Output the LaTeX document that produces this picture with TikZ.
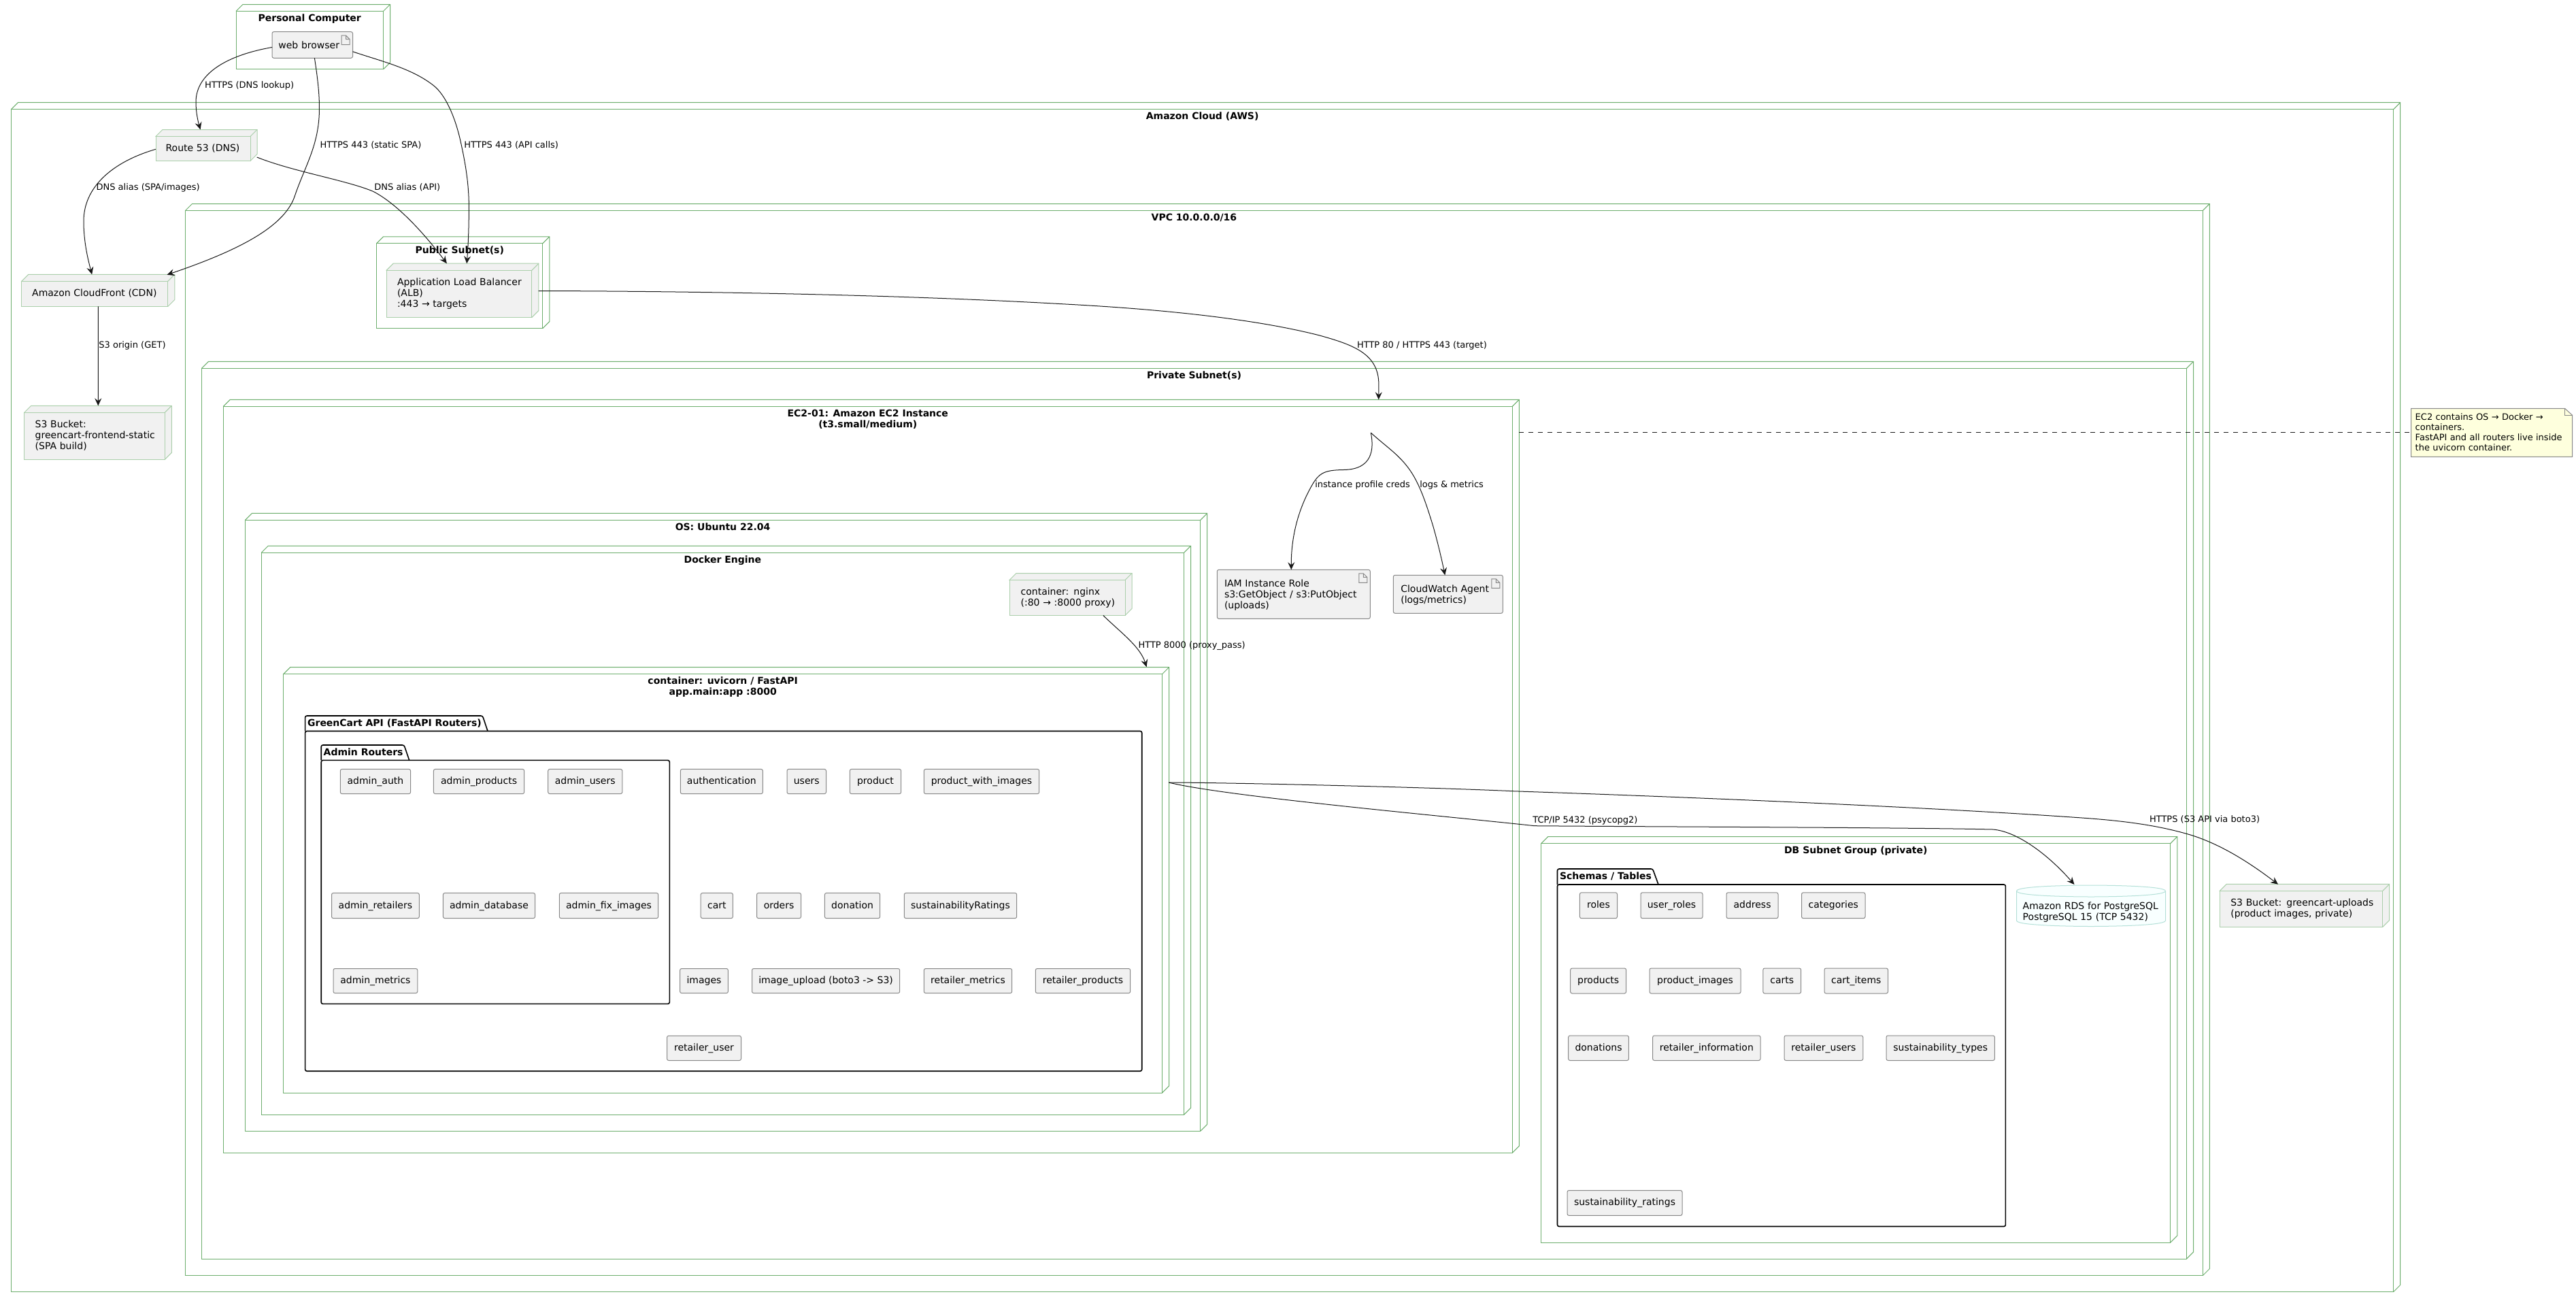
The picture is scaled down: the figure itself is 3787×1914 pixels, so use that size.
\documentclass[tikz,border=0pt]{standalone}
\usepackage{fontspec}
\setmainfont{DejaVu Sans}
\usetikzlibrary{arrows.meta}
\definecolor{contgreen}{HTML}{6DAE6D}
\definecolor{leafgreen}{HTML}{ABCFAB}
\definecolor{boxfill}{HTML}{F1F1F1}
\definecolor{boxline}{HTML}{888888}
\definecolor{notefill}{HTML}{FEFFDD}
\definecolor{dbline}{HTML}{B4E0D8}
\definecolor{dbfill}{HTML}{F8FFFF}
\definecolor{edgeink}{HTML}{181818}
\newcommand{\st}{\rule[-3.5pt]{0pt}{15pt}}
\newcommand{\lnn}[1]{\mbox{\st #1}}
\tikzset{
  x=1pt,y=-1pt,
  base/.style={inner sep=0pt,outer sep=0pt,font=\fontsize{14}{16}\selectfont},
  small/.style={inner sep=0pt,outer sep=0pt,font=\fontsize{13}{15}\selectfont},
  shellc/.style={draw=contgreen,line width=1pt,line join=miter},
  shelll/.style={draw=leafgreen,fill=boxfill,line width=1pt,line join=miter},
  contfront/.style={base,draw=contgreen,line width=1pt},
  leaffront/.style={base,draw=leafgreen,fill=boxfill,line width=1pt,align=left},
  titletext/.style={base,font=\fontsize{14}{16}\bfseries\selectfont,align=center},
  comprect/.style={base,draw=boxline,fill=boxfill,line width=1pt,rounded corners=2.5pt},
  artrect/.style={base,draw=boxline,fill=boxfill,line width=1pt,rounded corners=2.5pt,align=left},
  arttab/.style={draw=boxline,line width=1pt},
  pkgline/.style={draw=black,line width=1.6pt,rounded corners=2.5pt},
  pkgbody/.style={base,draw=black,line width=1.6pt,rounded corners=2.5pt},
  elabel/.style={small,anchor=west,yshift=0.5pt},
  edge/.style={draw=edgeink,line width=1pt,-{Stealth[length=11pt,width=10pt,inset=4pt]}},
  noteedge/.style={draw=edgeink,line width=1pt,dash pattern=on 7pt off 7pt},
}
% name x0 y0 x1 y1 title
\newcommand{\contbox}[6]{%
  \path[shellc] (#2,#3) -- (#2+10,#3-10) -- (#4+10,#3-10) -- (#4+10,#5-10) -- (#4,#5) (#4,#3) -- (#4+10,#3-10);
  \node[contfront,minimum width={(#4-#2)*1pt},minimum height={(#5-#3)*1pt}] (#1) at ({(#2+#4)/2},{(#3+#5)/2}) {};
  \node[titletext,anchor=north] (#1-title) at ({(#2+#4)/2},#3+3.5) {#6};
}
% name x0 y0 x1 y1 pad text
\newcommand{\leafbox}[7]{%
  \path[shelll] (#2,#3) -- (#2+10,#3-10) -- (#4+10,#3-10) -- (#4+10,#5-10) -- (#4,#5) -- cycle;
  \path[shelll] (#4,#3) -- (#4+10,#3-10);
  \pgfmathsetmacro{\tw}{#4-#2-2*#6}
  \node[leaffront,inner xsep=#6pt,text width=\tw pt,minimum width={(#4-#2)*1pt},minimum height={(#5-#3)*1pt}] (#1) at ({(#2+#4)/2},{(#3+#5)/2}) {#7};
}
% name x0 y0 x1 y1 text
\newcommand{\compbox}[6]{%
  \node[comprect,minimum width={(#4-#2)*1pt},minimum height={(#5-#3)*1pt}] (#1) at ({(#2+#4)/2},{(#3+#5)/2}) {\st #6};
}
% name x0 y0 x1 y1 pad text
\newcommand{\artbox}[7]{%
  \pgfmathsetmacro{\tw}{#4-#2-2*#6}
  \node[artrect,inner xsep=#6pt,text width=\tw pt,minimum width={(#4-#2)*1pt},minimum height={(#5-#3)*1pt}] (#1) at ({(#2+#4)/2},{(#3+#5)/2}) {\rule{0pt}{14.5pt}#7};
  \path[arttab] (#4-16.5,#3+5.5) -- (#4-10,#3+5.5) -- (#4-4.5,#3+11) -- (#4-4.5,#3+19) -- (#4-16.5,#3+19) -- cycle
    (#4-10,#3+5.5) -- (#4-10,#3+11) -- (#4-4.5,#3+11);
}
% name x0 tabtop bodytop x1 y1 tabTR tabBR title
\newcommand{\pkgbox}[9]{%
  \path[pkgline] (#2,#4) -- (#2,#3) -- (#7,#3) -- (#8,#4);
  \node[pkgbody,minimum width={(#5-#2)*1pt},minimum height={(#6-#4)*1pt}] (#1) at ({(#2+#5)/2},{(#4+#6)/2}) {};
  \node[base,anchor=west,font=\fontsize{14}{16}\bfseries\selectfont] (#1-title) at (#2+3.5,{(#3+#4)/2}) {\st #9};
}
\begin{document}
\begin{tikzpicture}
\useasboundingbox (0,0) rectangle (3787,1914);
\fill[white] (0,0) rectangle (3787,1914);
% containers
\contbox{pc}{347}{16.5}{563.5}{101.8}{\st Personal Computer}
\contbox{aws}{16.5}{160.7}{3518.7}{1898.5}{\st Amazon Cloud (AWS)}
\contbox{vpc}{272.5}{309.5}{3238.3}{1874.6}{\st VPC 10.0.0.0/16}
\contbox{pub}{553.6}{357.8}{797.8}{482.6}{\st Public Subnet(s)}
\contbox{priv}{296.5}{541.3}{3214.5}{1850}{\st Private Subnet(s)}
\contbox{ec2}{328.3}{597.3}{2223.3}{1694.3}{\st EC2-01: Amazon EC2 Instance\\\st (t3.small/medium)}
\contbox{os}{360.4}{764.4}{1764.7}{1662.3}{\st OS: Ubuntu 22.04}
\contbox{docker}{384.2}{812.3}{1740.6}{1638.3}{\st Docker Engine}
\contbox{uv}{416.7}{990.6}{1708.6}{1606}{\st container: uvicorn / FastAPI\\\st app.main:app :8000}
\contbox{dbnet}{2265.8}{1239.5}{3190.8}{1826}{\st DB Subnet Group (private)}
% artifacts
\artbox{web}{400}{46.7}{518.5}{85.3}{9.4}{\lnn{web browser}}
\artbox{iam}{1789.3}{837.3}{2014.3}{909.3}{10.7}{\lnn{IAM Instance Role}\\\lnn{s3:GetObject / s3:PutObject}\\\lnn{(uploads)}}
\artbox{cw}{2048.3}{845.3}{2209.3}{901.3}{11}{\lnn{CloudWatch Agent}\\\lnn{(logs/metrics)}}
% 3D leaf nodes
\leafbox{r53}{229}{200.5}{368}{236.5}{14.6}{\lnn{Route 53 (DNS)}}
\leafbox{cf}{31.9}{413.3}{246.8}{450.4}{15.3}{\lnn{Amazon CloudFront (CDN)}}
\leafbox{s3f}{35.7}{606.3}{242.3}{675.3}{16}{\lnn{S3 Bucket:}\\\lnn{greencart-frontend-static}\\\lnn{(SPA build)}}
\leafbox{alb}{568.2}{397.2}{781.9}{466.5}{15.8}{\lnn{Application Load Balancer}\\\lnn{(ALB)}\\\lnn{:443 → targets}}
\leafbox{nginx}{1484}{852.5}{1654}{904.5}{16.6}{\lnn{container: nginx}\\\lnn{(:80 → :8000 proxy)}}
\leafbox{s3u}{3263.3}{1309.3}{3502.7}{1362.3}{16}{\lnn{S3 Bucket: greencart-uploads}\\\lnn{(product images, private)}}
% packages
\pkgbox{greencart}{448.6}{1052}{1074.5}{1678.7}{1574.2}{709.4}{717}{GreenCart API (FastAPI Routers)}
\pkgbox{admin}{472.2}{1095}{1117.4}{984.3}{1475.4}{594}{601.7}{Admin Routers}
\pkgbox{schemas}{2289.5}{1277}{1300}{2948.4}{1802.5}{2429.6}{2438}{Schemas / Tables}
% admin routers
\compbox{aauth}{500.3}{1130.4}{603.6}{1166.6}{admin\_auth}
\compbox{aprod}{637.4}{1130.4}{770.7}{1166.6}{admin\_products}
\compbox{ausers}{805.7}{1130.4}{914.8}{1166.6}{admin\_users}
\compbox{aret}{487.5}{1312.4}{616.3}{1349.6}{admin\_retailers}
\compbox{adb}{651.4}{1312.4}{786.6}{1349.6}{admin\_database}
\compbox{afix}{822.3}{1312.4}{967.7}{1349.6}{admin\_fix\_images}
\compbox{amet}{490}{1423.5}{613.8}{1459.6}{admin\_metrics}
% routers
\compbox{rauth}{1000.3}{1130.4}{1121.4}{1166.6}{authentication}
\compbox{rusers}{1157}{1130.4}{1214.5}{1166.6}{users}
\compbox{rprod}{1249.3}{1130.4}{1324.7}{1166.6}{product}
\compbox{rpwi}{1358.3}{1130.4}{1527.7}{1166.6}{product\_with\_images}
\compbox{rcart}{1030.2}{1312.4}{1077.4}{1349.6}{cart}
\compbox{rord}{1112.5}{1312.4}{1177.6}{1349.6}{orders}
\compbox{rdon}{1212.4}{1312.4}{1293.7}{1349.6}{donation}
\compbox{rsus}{1329.3}{1312.4}{1494.7}{1349.6}{sustainabilityRatings}
\compbox{rimg}{999.6}{1423.5}{1070.4}{1459.6}{images}
\compbox{rup}{1105.5}{1423.5}{1322.7}{1459.6}{image\_upload (boto3 -> S3)}
\compbox{rmet}{1358.3}{1423.5}{1487.7}{1459.6}{retailer\_metrics}
\compbox{rrp}{1522.3}{1423.5}{1661.7}{1459.6}{retailer\_products}
\compbox{rru}{980.5}{1522.3}{1089.5}{1558.5}{retailer\_user}
% tables
\compbox{troles}{2322.4}{1311.8}{2377.5}{1349.7}{roles}
\compbox{tur}{2412}{1311.8}{2503}{1349.7}{user\_roles}
\compbox{taddr}{2538}{1311.8}{2614}{1349.7}{address}
\compbox{tcat}{2648.5}{1311.8}{2742}{1349.7}{categories}
\compbox{tprod}{2308.7}{1423}{2390.6}{1460}{products}
\compbox{tpi}{2425}{1423}{2559}{1460}{product\_images}
\compbox{tcarts}{2591.8}{1423}{2647.7}{1460}{carts}
\compbox{tci}{2682}{1423}{2775.5}{1460}{cart\_items}
\compbox{tdon}{2305.6}{1522}{2394.4}{1558.5}{donations}
\compbox{tri}{2429.6}{1522}{2588}{1558.5}{retailer\_information}
\compbox{tru}{2623}{1522}{2738.8}{1558.5}{retailer\_users}
\compbox{tst}{2773}{1522}{2932.4}{1558.5}{sustainability\_types}
\compbox{tsr}{2304}{1749.5}{2473}{1786.4}{sustainability\_ratings}
% database
\path[draw=dbline,fill=dbfill,line width=1pt] (2964.5,1309.5) .. controls (2964.5,1301) and (3074,1301) .. (3074,1301) .. controls (3074,1301) and (3183.5,1301) .. (3183.5,1309.5) -- (3183.5,1353) .. controls (3183.5,1361.5) and (3074,1361.5) .. (3074,1361.5) .. controls (3074,1361.5) and (2964.5,1361.5) .. (2964.5,1353) -- cycle;
\path[draw=dbline,line width=1pt] (2964.5,1309.5) .. controls (2964.5,1318) and (3074,1318) .. (3074,1318) .. controls (3074,1318) and (3183.5,1318) .. (3183.5,1309.5);
\node[base,align=left,inner xsep=9.2pt,text width=200.6pt,minimum width=219pt,minimum height=44pt] (rds) at (3074,1340) {\lnn{Amazon RDS for PostgreSQL}\\\lnn{PostgreSQL 15 (TCP 5432)}};
% note
\node[small,minimum width=236.9pt,minimum height=71pt] (note) at (3663.15,635.8) {};
\path[draw=boxline,fill=notefill,line width=1pt] (note.north west) -- ([xshift=-11pt]note.north east) -- ([yshift=-10pt]note.north east) -- (note.south east) -- (note.south west) -- cycle;
\path[draw=boxline,line width=1pt] ([xshift=-11pt]note.north east) -- ([shift={(-11pt,-10pt)}]note.north east) -- ([yshift=-10pt]note.north east);
\node[small,align=left,inner xsep=6pt,text width=224.9pt,minimum width=236.9pt,minimum height=71pt] (notetext) at (note.center) {\lnn{EC2 contains OS → Docker →}\\\lnn{containers.}\\\lnn{FastAPI and all routers live inside}\\\lnn{the uvicorn container.}};
% hub inside the EC2 box
\coordinate (hub) at (2015.3,636);
% connectors
\draw[edge] ([yshift=-22.8pt]web.north west) .. controls (340,80) and (288,105) .. (288,150) .. controls (288,165) and (291,178) .. ([shift={(65.6pt,10pt)}]r53.north west);
\draw[edge] ([xshift=62.4pt]web.south west) .. controls (467,115) and (470,140) .. (469.4,165) .. controls (468,215) and (448,245) .. (433.7,287) .. controls (420,330) and (360,365) .. ([shift={(213.6pt,9.5pt)}]cf.north west);
\draw[edge] ([yshift=-29.1pt]web.north east) .. controls (560,90) and (605,100) .. (637.8,126) .. controls (655,140) and (668,170) .. (676,203) .. controls (684,238) and (689.5,270) .. (689.4,306) .. controls (689.3,340) and (688,365) .. ([shift={(118pt,9.9pt)}]alb.north west);
\draw[edge] ([yshift=-18.8pt]r53.north west) .. controls (165,238) and (123,275) .. (123,325) .. controls (123,355) and (129,380) .. ([shift={(103.3pt,9.9pt)}]cf.north west);
\draw[edge] ([shift={(9.6pt,5.5pt)}]r53.south east) .. controls (430,252) and (510,265) .. (548.5,281.3) .. controls (585,300) and (625,345) .. ([shift={(88.7pt,9.9pt)}]alb.north west);
\draw[edge] ([xshift=112.4pt]cf.south west) -- ([shift={(108.6pt,10pt)}]s3f.north west);
\draw[edge] ([shift={(9.6pt,-30.3pt)}]alb.north east) .. controls (1000,428) and (1300,432) .. (1561,446.7) .. controls (1720,455) and (1850,470) .. (1940,493) .. controls (1990,507) and (2027,520) .. ([shift={(1698.6pt,32pt)}]ec2.north west) -- ([shift={(1698.4pt,10pt)}]ec2.north west);
\draw[edge] ([xshift=137.8pt]nginx.south west) .. controls (1648,930) and (1676,950) .. ([shift={(1268.9pt,10.3pt)}]uv.north west);
\draw[edge] (hub) .. controls (2020,660) and (2018,690) .. (1975,690.5) .. controls (1945,691) and (1938,695) .. (1925,720) .. controls (1908,752) and (1898,790) .. ([xshift=109pt]iam.north west);
\draw[edge] (hub) .. controls (2035,654) and (2052,665) .. (2066.7,683) .. controls (2085,705) and (2095,735) .. (2106.7,773) .. controls (2113,795) and (2119,820) .. ([xshift=76pt]cw.north west);
\draw[edge] ([shift={(9.5pt,-159.4pt)}]uv.north east) .. controls (1800,1170) and (2100,1197) .. (2256,1213.7) .. controls (2400,1215) and (2800,1216) .. (2930,1219) .. controls (2965,1222) and (3010,1255) .. ([shift={(85pt,18pt)}]rds.north west);
\draw[edge] ([shift={(9.5pt,-159.4pt)}]uv.north east) .. controls (1800,1150) and (2100,1157) .. (2224,1162.7) .. controls (2500,1172) and (2850,1187) .. (3064.8,1202.3) .. controls (3130,1207) and (3175,1214) .. (3216.7,1226) .. controls (3265,1240) and (3310,1270) .. ([shift={(85.7pt,9.6pt)}]s3u.north west);
\draw[noteedge] ([shift={(10pt,-38pt)}]ec2.north east) -- ([yshift=-35pt]note.north west);
% connector labels
\node[elabel] (l1) at (301,125.5) {\st HTTPS (DNS lookup)};
\node[elabel] (l2) at (470.7,213.5) {\st HTTPS 443 (static SPA)};
\node[elabel] (l3) at (682.4,213.5) {\st HTTPS 443 (API calls)};
\node[elabel] (l4) at (141.6,275.5) {\st DNS alias (SPA/images)};
\node[elabel] (l5) at (550.4,275.5) {\st DNS alias (API)};
\node[elabel] (l6) at (145.4,507.5) {\st S3 origin (GET)};
\node[elabel] (l7) at (1995,507.7) {\st HTTP 80 / HTTPS 443 (target)};
\node[elabel] (l8) at (1933.3,713.3) {\st instance profile creds};
\node[elabel] (l9) at (2087.3,713.3) {\st logs \& metrics};
\node[elabel] (l10) at (1673.5,948.5) {\st HTTP 8000 (proxy\_pass)};
\node[elabel] (l11) at (2253.3,1206) {\st TCP/IP 5432 (psycopg2)};
\node[elabel] (l12) at (3160,1205.3) {\st HTTPS (S3 API via boto3)};
\end{tikzpicture}
\end{document}
